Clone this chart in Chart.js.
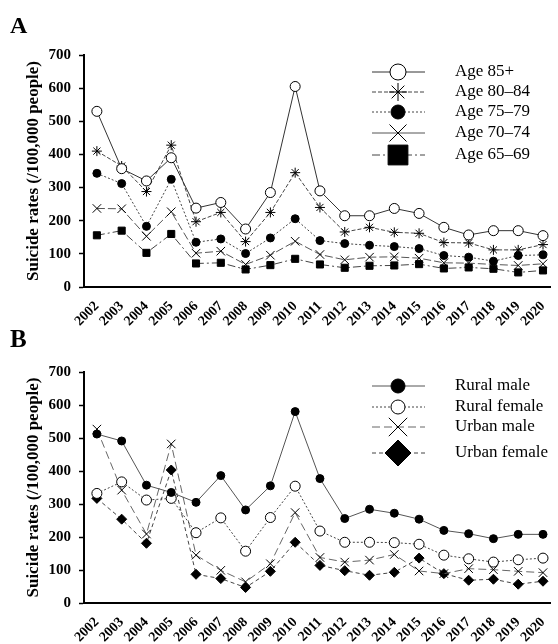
<!DOCTYPE html>
<html>
<head>
<meta charset="utf-8">
<script src="https://cdn.jsdelivr.net/npm/chart.js@4.4.1/dist/chart.umd.min.js"></script>
<style>
  html, body { margin: 0; padding: 0; background: #fff; }
  canvas { display: block; }
</style>
</head>
<body>
<canvas id="chartA" width="558" height="330"></canvas>
<canvas id="chartB" width="558" height="314"></canvas>
<script>
const years = [2002, 2003, 2004, 2005, 2006, 2007, 2008, 2009, 2010, 2011,
               2012, 2013, 2014, 2015, 2016, 2017, 2018, 2019, 2020];

// panel A, by age group
const age85 = [530, 357, 320, 390, 238, 255, 175, 285, 605, 290, 215, 215, 237, 222, 180, 157, 170, 170, 155];
const age80 = [410, 365, 288, 428, 197, 225, 137, 225, 345, 240, 166, 180, 165, 162, 134, 133, 112, 112, 128];
const age75 = [343, 312, 183, 325, 135, 145, 101, 148, 206, 140, 131, 126, 122, 116, 95, 90, 78, 95, 97];
const age70 = [237, 236, 153, 227, 102, 108, 68, 96, 138, 98, 82, 90, 91, 87, 73, 72, 68, 65, 70];
const age65 = [156, 170, 103, 160, 71, 73, 53, 66, 85, 68, 58, 64, 65, 69, 56, 59, 55, 44, 50];

// panel B, by area and sex
const ruralMale = [512, 491, 357, 335, 305, 386, 282, 355, 580, 377, 256, 284, 272, 254, 220, 210, 195, 208, 208];
const ruralFemale = [332, 367, 312, 317, 213, 258, 157, 259, 354, 218, 184, 184, 183, 178, 145, 134, 124, 131, 136];
const urbanMale = [527, 342, 209, 482, 145, 99, 64, 119, 274, 138, 124, 130, 147, 97, 89, 104, 101, 96, 92];
const urbanFemale = [317, 254, 181, 403, 87, 74, 47, 96, 184, 114, 98, 84, 93, 136, 89, 69, 72, 57, 66];

const yTicks = [0, 100, 200, 300, 400, 500, 600, 700];
const yTitle = 'Suicide rates (/100,000 people)';

const serif = "'Liberation Serif', 'Times New Roman', serif";

function series(label, values, style) {
  return Object.assign({
    label: label,
    data: years.map((yr, i) => ({ x: yr, y: values[i] })),
    borderColor: '#444',
    borderWidth: 1,
    pointBorderColor: '#000',
    pointBorderWidth: 1,
    pointHoverRadius: 0,
    tension: 0,
    fill: false
  }, style);
}

// letter + legend drawn by hand so the line sample goes through the marker
const panelDecor = {
  id: 'panelDecor',
  afterDraw(chart, args, opts) {
    const ctx = chart.ctx;
    ctx.save();
    ctx.fillStyle = '#000';
    ctx.font = 'bold ' + opts.letterSize + 'px ' + serif;
    ctx.textBaseline = 'alphabetic';
    ctx.textAlign = 'left';
    ctx.fillText(opts.letter, 10, opts.letterY);

    ctx.font = '17px ' + serif;
    ctx.textBaseline = 'middle';
    chart.data.datasets.forEach((ds, i) => {
      const y = opts.rows[i];
      ctx.strokeStyle = ds.borderColor;
      ctx.lineWidth = 1;
      ctx.setLineDash(ds.legendDash || ds.borderDash || []);
      ctx.beginPath();
      ctx.moveTo(372, y);
      ctx.lineTo(425, y);
      ctx.stroke();
      ctx.setLineDash([]);
      ctx.fillStyle = ds.pointBackgroundColor;
      ctx.strokeStyle = '#000';
      Chart.helpers.drawPoint(ctx, {
        pointStyle: ds.pointStyle, radius: ds.legendRadius, borderWidth: 1, rotation: 0
      }, 398, y);
      ctx.fillStyle = '#000';
      ctx.fillText(ds.label, 455, y);
    });
    ctx.restore();
  }
};

function makeChart(id, datasets, decor, topPad, xHeight) {
  return new Chart(document.getElementById(id), {
    type: 'line',
    data: { datasets: datasets },
    plugins: [panelDecor],
    options: {
      responsive: false,
      animation: false,
      events: [],
      layout: { padding: { top: topPad, right: 1, left: 0, bottom: 0 } },
      plugins: {
        legend: { display: false },
        tooltip: { enabled: false },
        panelDecor: decor
      },
      scales: {
        x: {
          type: 'linear',
          min: 2001.48,
          max: 2020.32,
          afterBuildTicks: s => { s.ticks = years.map(v => ({ value: v })); },
          afterFit: s => { s.height = xHeight; },
          grid: { display: false },
          border: { display: true, color: '#000', width: 2 },
          ticks: {
            autoSkip: false,
            minRotation: 45,
            maxRotation: 45,
            padding: 3,
            color: '#000',
            font: { family: serif, size: 14, weight: 'bold' },
            callback: v => String(v)
          }
        },
        y: {
          min: 0,
          max: 700,
          afterBuildTicks: s => { s.ticks = yTicks.map(v => ({ value: v })); },
          afterFit: s => { s.width = 84; },
          grid: { drawOnChartArea: false, drawTicks: true, tickLength: 5, tickColor: '#000', tickWidth: 1.5 },
          border: { display: true, color: '#000', width: 2 },
          ticks: {
            padding: 8,
            color: '#000',
            font: { family: serif, size: 15, weight: 'bold' }
          },
          title: {
            display: true,
            text: yTitle,
            color: '#000',
            padding: { top: 23, bottom: 0 },
            font: { family: serif, size: 17, weight: 'bold' }
          }
        }
      }
    }
  });
}

makeChart('chartA', [
  series('Age 85+', age85, { pointStyle: 'circle', pointRadius: 5, pointBackgroundColor: '#fff', legendRadius: 8, borderColor: '#333' }),
  series('Age 80\u201384', age80, { pointStyle: 'star', pointRadius: 5, pointBackgroundColor: '#000', legendRadius: 9, borderDash: [4, 2] }),
  series('Age 75\u201379', age75, { pointStyle: 'circle', pointRadius: 4, pointBackgroundColor: '#000', legendRadius: 7, borderDash: [2, 2] }),
  series('Age 70\u201374', age70, { pointStyle: 'crossRot', pointRadius: 6, pointBackgroundColor: '#000', legendRadius: 12, borderDash: [8, 3], legendDash: [], borderColor: '#555' }),
  series('Age 65\u201369', age65, { pointStyle: 'rect', pointRadius: 5, pointBackgroundColor: '#000', legendRadius: 14, borderDash: [8, 3, 2, 3] })
], { letter: 'A', letterY: 33, letterSize: 24, rows: [72, 92, 112, 133, 155] }, 55, 43);

makeChart('chartB', [
  series('Rural male', ruralMale, { pointStyle: 'circle', pointRadius: 4, pointBackgroundColor: '#000', legendRadius: 7, borderColor: '#555' }),
  series('Rural female', ruralFemale, { pointStyle: 'circle', pointRadius: 5, pointBackgroundColor: '#fff', legendRadius: 7, borderDash: [2, 2] }),
  series('Urban male', urbanMale, { pointStyle: 'crossRot', pointRadius: 6, pointBackgroundColor: '#000', legendRadius: 13, borderDash: [8, 4], borderColor: '#666' }),
  series('Urban female', urbanFemale, { pointStyle: 'rectRot', pointRadius: 5, pointBackgroundColor: '#000', legendRadius: 13, borderDash: [4, 3] })
], { letter: 'B', letterY: 17, letterSize: 25, rows: [56, 77, 97, 123] }, 42, 41);
</script>
</body>
</html>
